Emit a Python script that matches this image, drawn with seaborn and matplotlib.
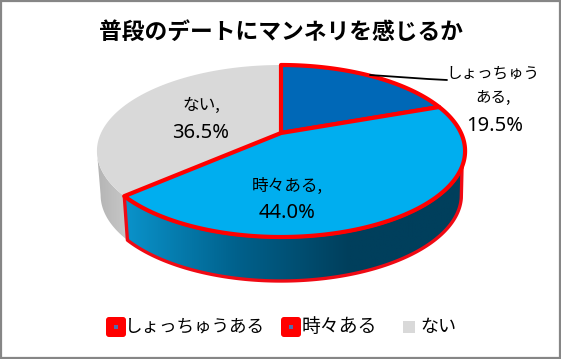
import numpy as np
import matplotlib
matplotlib.use("Agg")
import matplotlib.pyplot as plt
import seaborn as sns
from matplotlib.colors import LinearSegmentedColormap
from matplotlib.patches import FancyBboxPatch, Polygon, Rectangle

title = "普段のデートにマンネリを感じるか"
categories = ["しょっちゅうある", "時々ある", "ない"]
shares = [19.5, 44.0, 36.5]
name_labels = ["しょっちゅう\nある,", "時々ある,", "ない,"]
colors = ["#0068B7", "#00AEEF", "#D9D9D9"]

# perspective of the pie, in pixels of the picture
CX, CY = 281, 133
K = 180
A, C = -54.4, 0.2093
DEPTH = 44
BOTTOM_SCALE = 0.98
NUM_FONT = ["Noto Sans", "DejaVu Sans"]


def project(deg):
    t = np.radians(deg)
    u, v = np.sin(t), np.cos(t)
    d = 1 + C * v
    return CX + K * u / d, (A * v + CY) / d


def arc(start, end):
    deg = np.linspace(start, end, max(int(abs(end - start) * 2), 2))
    x, y = project(deg)
    return np.column_stack([x, y])


def rim(ax, top_range, bottom_range, cmap, edge):
    top = arc(*top_range)
    bottom = arc(*bottom_range)[::-1]
    # lower ring sits a little narrower than the top one
    bottom[:, 0] = CX + (bottom[:, 0] - CX) * BOTTOM_SCALE
    bottom[:, 1] += DEPTH
    pts = np.vstack([top, bottom])
    poly = Polygon(pts, closed=True, fc="none", ec="none", zorder=2)
    ax.add_patch(poly)
    grad = np.linspace(0, 1, 256).reshape(1, -1)
    img = ax.imshow(grad, cmap=cmap, aspect="auto", zorder=2,
                    extent=[pts[:, 0].min(), pts[:, 0].max(), 300, 50])
    img.set_clip_path(poly)
    if edge:
        ax.add_patch(Polygon(pts, closed=True, fc="none", ec="#F00A14", lw=2.4,
                             joinstyle="round", zorder=3))


def main():
    sns.set_theme(style="white")
    plt.rcParams["font.family"] = ["Noto Sans CJK JP", "DejaVu Sans"]

    fig = plt.figure(figsize=(5.61, 3.59), dpi=100)
    ax = fig.add_axes([0, 0, 1, 1])

    # slice angles, clockwise from the top
    ends = np.cumsum(shares) / sum(shares) * 360
    starts = np.concatenate([[0], ends[:-1]])

    blue_rim = LinearSegmentedColormap.from_list("b", ["#0A93CB", "#00618C", "#003F5C", "#003F5C"])
    gray_rim = LinearSegmentedColormap.from_list("g", ["#B4B4B4", "#C8C8C8"])

    side_right = np.degrees(np.arccos(-C))
    side_left = 360 - side_right
    rim(ax, (ends[1], side_left), (ends[1], side_left), gray_rim, False)
    rim(ax, (side_right + 10, ends[1]), (side_right + 2, ends[1]), blue_rim, True)

    for i in [2, 0, 1]:
        pts = np.vstack([[CX, CY], arc(starts[i], ends[i])])
        has_edge = i != 2
        ax.add_patch(Polygon(pts, closed=True, fc=colors[i],
                             ec="#FF0000" if has_edge else "none",
                             lw=3.0, joinstyle="round", zorder=4 + (i == 1)))

    ax.plot([370, 428, 447], [75, 79, 80], color="black", lw=1.3, zorder=6)

    ax.text(281, 32, title, ha="center", va="center", fontsize=16.4,
            fontweight="bold", color="black")

    ax.text(493, 85.5, name_labels[0], ha="center", va="center", fontsize=11.2,
            linespacing=1.55, color="black", zorder=7)
    ax.text(495, 126, "19.5%", ha="center", va="center", fontsize=14.5,
            family=NUM_FONT, color="black", zorder=7)
    ax.text(287, 186, name_labels[1], ha="center", va="center", fontsize=12,
            color="black", zorder=7)
    ax.text(287, 213, "44.0%", ha="center", va="center", fontsize=14.5,
            family=NUM_FONT, color="black", zorder=7)
    ax.text(201, 105, name_labels[2], ha="center", va="center", fontsize=12,
            color="black", zorder=7)
    ax.text(201, 132.5, "36.5%", ha="center", va="center", fontsize=14.5,
            family=NUM_FONT, color="black", zorder=7)

    # legend
    swatch_x = [106, 281]
    for x in swatch_x:
        ax.add_patch(FancyBboxPatch((x + 3, 320), 14, 14, boxstyle="round,pad=3,rounding_size=3",
                                    fc="#FF0000", ec="none"))
        ax.add_patch(Rectangle((x + 8, 325), 4, 4, fc="#4F6FB0", ec="none", zorder=3))
    ax.add_patch(Rectangle((403, 321), 12, 12, fc=colors[2], ec="none"))
    ax.text(125, 327, categories[0], ha="left", va="center", fontsize=12.65, color="black")
    ax.text(302, 327, categories[1], ha="left", va="center", fontsize=13.6, color="black")
    ax.text(420, 327, categories[2], ha="left", va="center", fontsize=13, color="black")

    # chart frame
    ax.add_patch(Rectangle((1, 1), 559, 357, fc="none", ec="#868686", lw=1.6, zorder=8))

    ax.set_xlim(0, 561)
    ax.set_ylim(359, 0)
    ax.axis("off")
    fig.savefig("out.png", dpi=100, facecolor="white")


if __name__ == "__main__":
    main()
